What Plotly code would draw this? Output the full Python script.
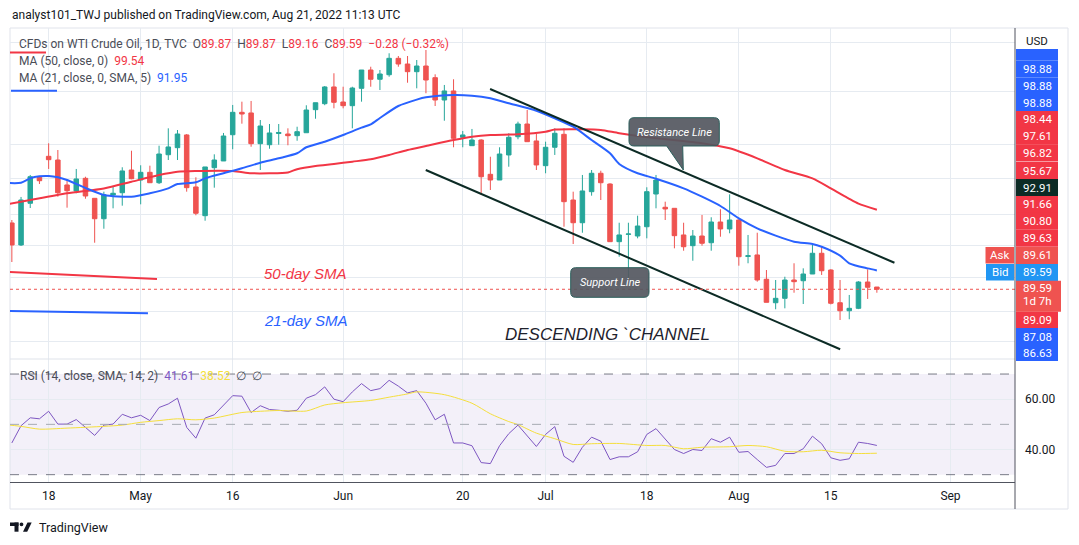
import plotly.graph_objects as go
import pandas as pd

# ---------------- data ----------------
dates = pd.bdate_range("2022-04-12", "2022-08-22").strftime("%Y-%m-%d").tolist()

opens = [97.88, 95.13, 100.34, 103.59, 106.21, 105.75, 102.63, 101.88, 103.46, 100.96,
         98.41, 101.38, 101.66, 104.5, 103.25, 104.21, 102.91, 106.41, 107.29, 108.88,
         102.38, 98.79, 104.79, 105.63, 108.91, 111.71, 111.63, 107.79, 107.66, 109.06,
         109.0, 108.79, 109.16, 112.04, 112.79, 114.88, 113.0, 112.54, 114.71, 117.0,
         115.84, 116.41, 118.46, 117.75, 116.79, 117.5, 116.04, 113.25, 114.38, 108.59,
         107.54, 108.25, 103.96, 103.25, 106.38, 108.66, 110.25, 108.13, 105.04, 107.34,
         108.96, 100.75, 97.91, 101.79, 104.09, 102.75, 95.54, 96.46, 96.25, 97.41,
         101.5, 99.84, 99.71, 96.38, 95.04, 96.25, 95.41, 98.0, 97.13, 98.25,
         93.7, 93.88, 90.84, 87.91, 88.46, 90.75, 90.66, 91.5, 94.09, 92.0,
         87.91, 86.91, 87.21, 90.5, 89.87]
closes = [95.13, 100.75, 103.66, 103.16, 105.79, 101.66, 101.91, 103.38, 101.25, 98.41,
          101.41, 101.59, 104.38, 103.41, 104.21, 102.91, 106.5, 107.38, 109.0, 102.29,
          99.09, 104.88, 105.75, 108.75, 111.71, 111.5, 107.79, 110.0, 109.13, 109.19,
          108.79, 109.29, 112.0, 112.91, 114.88, 112.96, 112.54, 114.75, 117.0, 115.84,
          116.5, 118.46, 117.75, 116.79, 117.5, 115.75, 113.25, 114.38, 108.46, 108.88,
          108.25, 103.66, 103.25, 106.5, 108.59, 110.25, 108.04, 105.13, 107.34, 109.09,
          100.54, 97.91, 101.88, 104.09, 102.91, 95.54, 96.38, 96.5, 97.5, 101.79,
          103.25, 99.63, 96.29, 94.91, 96.25, 95.34, 98.0, 97.13, 98.25, 93.66,
          93.78, 90.75, 87.96, 88.46, 90.75, 90.54, 91.5, 94.09, 91.91, 87.84,
          86.91, 87.21, 90.5, 89.84, 89.59]
highs = [98.25, 101.13, 103.88, 103.66, 107.84, 107.0, 103.38, 104.63, 103.66, 100.96,
         101.79, 102.41, 104.84, 106.91, 105.09, 105.04, 107.54, 109.71, 109.5, 109.0,
         103.59, 104.88, 106.46, 109.13, 112.63, 113.04, 113.13, 110.75, 110.25, 110.25,
         109.71, 109.91, 112.59, 112.91, 115.0, 116.59, 114.91, 114.91, 117.0, 117.41,
         117.0, 119.09, 118.75, 118.75, 118.25, 119.5, 116.46, 115.13, 115.84, 109.38,
         109.63, 108.34, 106.16, 107.34, 109.09, 110.54, 112.0, 109.0, 108.04, 109.71,
         109.71, 101.79, 103.88, 104.5, 104.41, 102.84, 97.91, 97.91, 98.79, 102.34,
         103.88, 100.54, 99.71, 97.91, 97.0, 98.88, 98.59, 99.59, 101.46, 98.34,
         96.38, 96.66, 92.0, 90.75, 91.16, 92.84, 92.21, 95.13, 94.91, 92.1,
         90.75, 88.88, 90.6, 92.09, 89.87]
lows = [93.0, 95.0, 99.75, 102.75, 104.63, 101.16, 99.79, 101.59, 100.91, 95.41,
        97.16, 99.71, 100.04, 103.34, 100.21, 102.91, 102.75, 105.75, 105.75, 101.79,
        98.84, 98.16, 102.29, 105.63, 107.09, 110.29, 107.41, 104.5, 107.16, 107.66,
        107.59, 108.16, 109.16, 110.91, 112.6, 112.21, 112.21, 109.71, 113.04, 114.91,
        114.5, 116.16, 117.41, 115.41, 114.71, 114.09, 112.5, 110.66, 107.34, 107.34,
        107.54, 101.38, 102.0, 103.25, 104.91, 108.34, 108.04, 104.5, 104.09, 106.38,
        97.41, 95.25, 96.66, 101.29, 100.75, 95.54, 93.66, 91.0, 95.96, 95.96,
        99.71, 98.25, 94.71, 94.41, 93.16, 95.04, 94.41, 96.16, 96.59, 92.54,
        92.84, 90.54, 87.96, 87.09, 87.21, 89.16, 87.75, 91.5, 91.38, 87.7,
        85.75, 85.84, 87.11, 88.38, 89.16]

ma50_dates = ["2022-04-11", "2022-04-14", "2022-04-20", "2022-04-26", "2022-04-29", "2022-05-04",
              "2022-05-06", "2022-05-10", "2022-05-16", "2022-05-18", "2022-05-20", "2022-05-24",
              "2022-05-25", "2022-05-27", "2022-05-31", "2022-06-02", "2022-06-06", "2022-06-08",
              "2022-06-10", "2022-06-14", "2022-06-17", "2022-06-21", "2022-06-23", "2022-06-28",
              "2022-07-01", "2022-07-04", "2022-07-07", "2022-07-11", "2022-07-13", "2022-07-19",
              "2022-07-26", "2022-07-29", "2022-08-03", "2022-08-08", "2022-08-11", "2022-08-15",
              "2022-08-17", "2022-08-18", "2022-08-22"]
ma50_values = [100.1, 100.75, 101.59, 102.2, 103.04, 103.88, 104.29, 104.38, 104.38, 104.1,
               104.09, 104.2, 104.6, 105.0, 105.25, 105.54, 105.84, 106.38, 107.0, 107.5,
               108.25, 108.66, 108.88, 108.96, 109.29, 109.55, 109.59, 109.5, 109.1, 108.46,
               107.84, 107.21, 105.96, 104.5, 103.46, 102.21, 100.9, 100.3, 99.54]

ma21_dates = ["2022-04-11", "2022-04-13", "2022-04-14", "2022-04-15", "2022-04-18", "2022-04-19",
              "2022-04-20", "2022-04-22", "2022-04-26", "2022-04-29", "2022-05-03", "2022-05-05",
              "2022-05-06", "2022-05-10", "2022-05-11", "2022-05-13", "2022-05-17", "2022-05-19",
              "2022-05-23", "2022-05-25", "2022-05-26", "2022-05-30", "2022-06-01", "2022-06-03",
              "2022-06-06", "2022-06-07", "2022-06-09", "2022-06-13", "2022-06-14", "2022-06-17",
              "2022-06-21", "2022-06-23", "2022-06-27", "2022-06-30", "2022-07-04", "2022-07-06",
              "2022-07-08", "2022-07-12", "2022-07-13", "2022-07-15", "2022-07-19", "2022-07-22",
              "2022-07-26", "2022-07-28", "2022-08-01", "2022-08-03", "2022-08-05", "2022-08-09",
              "2022-08-11", "2022-08-12", "2022-08-16", "2022-08-17", "2022-08-19", "2022-08-22"]
ma21_values = [102.9, 102.9, 103.46, 103.71, 103.75, 103.59, 103.25, 102.25, 101.38, 101.16,
               101.59, 102.21, 102.75, 102.96, 103.46, 104.09, 104.71, 105.41, 105.96, 106.59,
               107.34, 108.04, 108.88, 109.79, 110.2, 111.0, 112.5, 113.3, 113.59, 113.88,
               113.79, 113.46, 112.84, 111.91, 110.96, 109.91, 108.25, 106.59, 105.25, 104.09,
               103.41, 102.21, 101.16, 100.0, 98.46, 97.21, 96.3, 95.54, 95.25, 94.91,
               93.8, 92.84, 92.2, 91.95]

rsi_values = [42.6, 49.45, 52.6, 52.2, 55.2, 50.1, 50.1, 51.9, 48.8, 45.6,
              49.7, 50.1, 54.0, 52.6, 53.6, 51.5, 56.7, 58.1, 60.4, 48.8,
              44.5, 52.5, 53.8, 57.7, 61.4, 61.2, 54.7, 57.4, 55.9, 55.6,
              55.2, 55.6, 60.4, 61.8, 64.9, 60.0, 59.0, 62.9, 66.2, 63.4,
              64.2, 67.5, 65.2, 62.5, 63.4, 58.4, 51.8, 54.0, 42.6, 42.6,
              41.5, 34.8, 34.4, 41.5, 46.3, 49.7, 45.6, 41.2, 46.0, 49.1,
              37.3, 34.9, 40.9, 44.9, 43.3, 36.0, 37.1, 37.1, 39.1, 46.0,
              48.3, 44.0, 40.0, 38.4, 40.0, 39.6, 44.3, 42.9, 44.9, 38.9,
              39.2, 36.0, 32.9, 33.7, 38.4, 38.4, 40.3, 45.3, 42.3, 36.7,
              35.7, 36.3, 42.9, 42.4, 41.61]

rsi_sma_dates = ["2022-04-11", "2022-04-13", "2022-04-15", "2022-04-20", "2022-04-26", "2022-04-28",
                 "2022-05-02", "2022-05-04", "2022-05-06", "2022-05-10", "2022-05-12", "2022-05-17",
                 "2022-05-19", "2022-05-23", "2022-05-26", "2022-05-30", "2022-06-01", "2022-06-06",
                 "2022-06-08", "2022-06-10", "2022-06-13", "2022-06-16", "2022-06-21", "2022-06-23",
                 "2022-06-27", "2022-06-28", "2022-06-30", "2022-07-04", "2022-07-06", "2022-07-08",
                 "2022-07-13", "2022-07-18", "2022-07-20", "2022-07-22", "2022-07-26", "2022-07-29",
                 "2022-08-02", "2022-08-04", "2022-08-08", "2022-08-10", "2022-08-12", "2022-08-16",
                 "2022-08-18", "2022-08-22"]
rsi_sma_values = [50.0, 49.2, 48.1, 48.5, 49.2, 49.7, 50.8, 51.5, 52.2, 51.8, 52.5, 54.7,
                  55.2, 55.5, 55.3, 57.7, 58.6, 59.5, 60.8, 62.1, 62.9, 61.8, 58.4, 54.2,
                  51.1, 49.9, 46.5, 44.3, 42.0, 42.3, 42.4, 41.6, 41.6, 40.3, 40.9, 41.1,
                  41.6, 41.1, 39.3, 39.1, 39.7, 38.7, 38.4, 38.52]

tick_dates = ["2022-04-18", "2022-05-02", "2022-05-16", "2022-06-01", "2022-06-20",
              "2022-07-01", "2022-07-18", "2022-08-01", "2022-08-15", "2022-09-01"]
tick_text = ["18", "May", "16", "Jun", "20", "Jul", "18", "Aug", "15", "Sep"]

price_grid = [120.46, 114.34, 107.71, 103.46, 98.88, 95.04, 91.09, 86.79, 83.04]

upper_channel_dates = ["2022-06-22 23:15", "2022-08-23 21:50"]
upper_channel_prices = [114.63, 92.91]
lower_channel_dates = ["2022-06-13 23:30", "2022-08-16 00:15"]
lower_channel_prices = [104.5, 82.09]
sma50_note_dates = ["2022-04-11", "2022-05-03 18:30"]
sma50_note_prices = [91.79, 90.875]
sma21_note_dates = ["2022-04-11", "2022-05-02 19:00"]
sma21_note_prices = [86.89, 86.59]

scale_labels = [  # stacked price-scale labels: text, box colour, centre (px)
    ("98.88", "#2962ff", 69), ("98.88", "#2962ff", 86), ("98.88", "#2962ff", 102.5),
    ("98.44", "#f23645", 119.5), ("97.61", "#f23645", 136.3), ("96.82", "#f23645", 153),
    ("95.67", "#f23645", 170.5), ("92.91", "#0c2b25", 187.5), ("91.66", "#f23645", 204.5),
    ("90.80", "#f23645", 221.3), ("89.63", "#f23645", 238.3), ("89.61", "#ef5350", 255.4),
    ("89.59", "#2196f3", 272.4), ("89.09", "#f23645", 320), ("87.08", "#2962ff", 336.5),
    ("86.63", "#2962ff", 352.5)]

# ---------------- geometry helpers (reference pixel -> paper) ----------------
# the page body adds an 8px margin; the figure is sized/placed to compensate
OFF = 8
FIG_W, FIG_H = 1079 - 2 * OFF, 545 - 2 * OFF
L, R, T, B = 10, 1015, 28, 482          # plot area in reference pixels
def fx(px):
    return (px - L) / (R - L)
def fy(py):
    return (B - py) / (B - T)

GREEN, RED = "#26a69a", "#ef5350"
GRID = "#e6ebf1"
TXT = "#131722"
FONT = "Roboto"

fig = go.Figure()
fig.add_trace(go.Candlestick(
    x=dates, open=opens, high=highs, low=lows, close=closes,
    increasing=dict(line=dict(color=GREEN, width=1), fillcolor=GREEN),
    decreasing=dict(line=dict(color=RED, width=1), fillcolor=RED),
    whiskerwidth=0, showlegend=False, hoverinfo="skip", xaxis="x", yaxis="y"))

fig.add_trace(go.Scatter(x=ma50_dates, y=ma50_values, mode="lines", showlegend=False,
                         line=dict(color="#f23645", width=2, shape="spline", smoothing=0.7),
                         hoverinfo="skip", xaxis="x", yaxis="y"))
fig.add_trace(go.Scatter(x=ma21_dates, y=ma21_values, mode="lines", showlegend=False,
                         line=dict(color="#2962ff", width=2, shape="spline", smoothing=0.7),
                         hoverinfo="skip", xaxis="x", yaxis="y"))
for dx, dy, col in [(sma50_note_dates, sma50_note_prices, "#f23645"),
                    (sma21_note_dates, sma21_note_prices, "#2962ff")]:
    fig.add_trace(go.Scatter(x=dx, y=dy, mode="lines", showlegend=False, hoverinfo="skip",
                             line=dict(color=col, width=2), xaxis="x", yaxis="y"))
for dx, dy in [(upper_channel_dates, upper_channel_prices),
               (lower_channel_dates, lower_channel_prices)]:
    fig.add_trace(go.Scatter(x=dx, y=dy, mode="lines", showlegend=False, hoverinfo="skip",
                             line=dict(color="#0c2b25", width=2), xaxis="x", yaxis="y"))

fig.add_trace(go.Scatter(x=dates, y=rsi_values, mode="lines", showlegend=False, hoverinfo="skip",
                         line=dict(color="#7e57c2", width=1), xaxis="x", yaxis="y2"))
fig.add_trace(go.Scatter(x=rsi_sma_dates, y=rsi_sma_values, mode="lines", showlegend=False,
                         hoverinfo="skip",
                         line=dict(color="#f5df3c", width=1, shape="spline", smoothing=0.7),
                         xaxis="x", yaxis="y2"))

shapes = []
# RSI band + levels
shapes.append(dict(type="rect", xref="paper", yref="y2", x0=0, x1=1, y0=30, y1=70,
                   fillcolor="rgba(126,87,194,0.09)", line=dict(width=0), layer="below"))
for lvl, col in [(70, "#787b86"), (50, "#a7aab3"), (30, "#787b86")]:
    shapes.append(dict(type="line", xref="paper", yref="y2", x0=0, x1=1, y0=lvl, y1=lvl,
                       line=dict(color=col, width=1, dash="dash")))
# last price dotted line
shapes.append(dict(type="line", xref="paper", yref="y", x0=0, x1=1, y0=closes[-1], y1=closes[-1],
                   line=dict(color="#ef5350", width=1, dash="dot")))
# pane separator, price-scale border, frame
shapes.append(dict(type="line", xref="paper", yref="paper", x0=0, x1=1, y0=fy(359), y1=fy(359),
                   line=dict(color="#dfe3ea", width=1)))
shapes.append(dict(type="rect", xref="paper", yref="paper", x0=fx(10), x1=fx(1068),
                   y0=fy(509), y1=fy(28), line=dict(color="#e0e3eb", width=1), layer="below"))
shapes.append(dict(type="line", xref="paper", yref="paper", x0=1, x1=1, y0=fy(509), y1=fy(28),
                   line=dict(color="#50535e", width=1)))
# legend marker strokes
shapes.append(dict(type="line", xref="paper", yref="paper", x0=fx(10), x1=fx(46),
                   y0=fy(52.4), y1=fy(52.4), line=dict(color="#f23645", width=2)))
shapes.append(dict(type="line", xref="paper", yref="paper", x0=fx(11), x1=fx(57),
                   y0=fy(90.7), y1=fy(90.7), line=dict(color="#2962ff", width=2)))


def rrect_path(x0, y0, x1, y1, r, pointer=None):
    pts = []
    def P(cmd, *xy):
        s = cmd
        for i in range(0, len(xy), 2):
            s += f" {fx(xy[i]):.5f},{fy(xy[i+1]):.5f}"
        pts.append(s)
    P("M", x0 + r, y0)
    P("L", x1 - r, y0)
    P("Q", x1, y0, x1, y0 + r)
    P("L", x1, y1 - r)
    P("Q", x1, y1, x1 - r, y1)
    if pointer:
        for (a, b) in pointer:
            P("L", a, b)
    P("L", x0 + r, y1)
    P("Q", x0, y1, x0, y1 - r)
    P("L", x0, y0 + r)
    P("Q", x0, y0, x0 + r, y0)
    return " ".join(pts) + " Z"

shapes.append(dict(type="path", xref="paper", yref="paper",
                   path=rrect_path(629, 117.7, 719.3, 146, 5,
                                   pointer=[(682.7, 146), (683.3, 170), (666.7, 146)]),
                   fillcolor="rgba(84,87,96,0.92)", line=dict(color="#2b5f5c", width=1)))
shapes.append(dict(type="path", xref="paper", yref="paper",
                   path=rrect_path(570.7, 267.7, 649, 297.3, 5),
                   fillcolor="rgba(84,87,96,0.92)", line=dict(color="#2b5f5c", width=1)))

annotations = []
def ann(text, px, py, size=12, color=TXT, xanchor="left", family=FONT):
    annotations.append(dict(text=text, x=fx(px), y=fy(py), xref="paper", yref="paper",
                            xanchor=xanchor, yanchor="middle", showarrow=False,
                            font=dict(size=size, color=color, family=family)))

# price scale labels
shapes.append(dict(type="rect", xref="paper", yref="paper", x0=fx(1016), x1=fx(1058),
                   y0=fy(60.5), y1=fy(49), fillcolor="#2962ff", line=dict(width=0)))
for text, col, yc in scale_labels:
    shapes.append(dict(type="rect", xref="paper", yref="paper", x0=fx(1016), x1=fx(1058),
                       y0=fy(yc + 8.5), y1=fy(yc - 8.5), fillcolor=col, line=dict(width=0)))
    ann(text, 1037, yc, size=11.5, color="white", xanchor="center")
shapes.append(dict(type="rect", xref="paper", yref="paper", x0=fx(1016), x1=fx(1061),
                   y0=fy(311.7), y1=fy(280.7), fillcolor="#ef5350", line=dict(width=0)))
ann(f"{closes[-1]:.2f}", 1037, 288, size=11.5, color="white", xanchor="center")
ann("1d 7h", 1037, 301, size=11.5, color="white", xanchor="center")
# Ask / Bid tags
shapes.append(dict(type="rect", xref="paper", yref="paper", x0=fx(985.5), x1=fx(1014),
                   y0=fy(263.5), y1=fy(247), fillcolor="#ef5350", line=dict(width=0)))
shapes.append(dict(type="rect", xref="paper", yref="paper", x0=fx(986), x1=fx(1014),
                   y0=fy(280.5), y1=fy(264), fillcolor="#2196f3", line=dict(width=0)))
ann("Ask", 999.8, 255.3, size=11.5, color="white", xanchor="center")
ann("Bid", 1000, 272.3, size=11.5, color="white", xanchor="center")
ann("USD", 1037, 40.5, size=11.5, color=TXT, xanchor="center")

# header + legends
ann("analyst101_TWJ published on TradingView.com, Aug 21, 2022 11:13 UTC", 10, 15, size=12)
sp = "\u00a0\u00a0"
red_s = '<span style="color:#f23645">'
line1 = ("CFDs on WTI Crude Oil, 1D, TVC" + sp +
         f"O{red_s}{opens[-1]:.2f}</span>" + sp +
         f"H{red_s}{highs[-1]:.2f}</span>" + sp +
         f"L{red_s}{lows[-1]:.2f}</span>" + sp +
         f"C{red_s}{closes[-1]:.2f}</span>" + sp +
         f"{red_s}\u22120.28 (\u22120.32%)</span>")
ann(line1, 17, 43.7, size=12, color="#4a4d57")
ann(f'MA (50, close, 0)\u00a0\u00a0<span style="color:#f23645">{ma50_values[-1]:.2f}</span>',
    17, 61, size=12, color="#4a4d57")
ann(f'MA (21, close, 0, SMA, 5)\u00a0\u00a0<span style="color:#2962ff">{ma21_values[-1]:.2f}</span>',
    17, 78, size=12, color="#4a4d57")
ann(f'RSI (14, close, SMA, 14, 2)\u00a0\u00a0<span style="color:#7e57c2">{rsi_values[-1]:.2f}</span>'
    f'\u00a0\u00a0<span style="color:#f5df3c">{rsi_sma_values[-1]:.2f}</span>\u00a0\u00a0\u2205\u00a0\u00a0\u2205',
    18, 376, size=12, color="#4a4d57")

# callout texts
ann("<i>Resistance Line</i>", 674.2, 132, size=11, color="white", xanchor="center")
ann("<i>Support Line</i>", 610, 282.5, size=11, color="white", xanchor="center")

# drawing texts (data coords)
annotations.append(dict(text="<i>50-day SMA</i>", x="2022-05-19 04:48", y=91.58, xref="x", yref="y",
                        xanchor="left", yanchor="middle", showarrow=False,
                        font=dict(size=15, color="#f23645", family="Liberation Sans")))
annotations.append(dict(text="<i>21-day SMA</i>", x="2022-05-19 04:48", y=85.75, xref="x", yref="y",
                        xanchor="left", yanchor="middle", showarrow=False,
                        font=dict(size=15, color="#2962ff", family="Liberation Sans")))
annotations.append(dict(text="<i>DESCENDING `CHANNEL</i>", x="2022-06-24 08:24", y=84.0,
                        xref="x", yref="y", xanchor="left", yanchor="middle", showarrow=False,
                        font=dict(size=17, color="#1e222d", family="Liberation Sans")))

# TradingView logo
shapes.append(dict(type="rect", xref="paper", yref="paper", x0=fx(10), x1=fx(18.5),
                   y0=fy(526), y1=fy(522.5), fillcolor=TXT, line=dict(width=0)))
shapes.append(dict(type="rect", xref="paper", yref="paper", x0=fx(14.5), x1=fx(18.5),
                   y0=fy(531.7), y1=fy(522.5), fillcolor=TXT, line=dict(width=0)))
shapes.append(dict(type="circle", xref="paper", yref="paper", x0=fx(19.6), x1=fx(23.4),
                   y0=fy(526.2), y1=fy(522.4), fillcolor=TXT, line=dict(width=0)))
shapes.append(dict(type="path", xref="paper", yref="paper",
                   path=(f"M {fx(23):.5f},{fy(531.7):.5f} L {fx(27.2):.5f},{fy(531.7):.5f} "
                         f"L {fx(31.7):.5f},{fy(522.4):.5f} L {fx(27.5):.5f},{fy(522.4):.5f} Z"),
                   fillcolor=TXT, line=dict(width=0)))
ann("TradingView", 36.5, 527, size=12.5, color=TXT)

fig.update_layout(
    width=FIG_W, height=FIG_H,
    margin=dict(l=L - OFF, r=FIG_W - (R - OFF), t=T - OFF, b=FIG_H - (B - OFF)),
    paper_bgcolor="white", plot_bgcolor="white",
    font=dict(family=FONT, size=12, color=TXT),
    showlegend=False,
    xaxis=dict(type="date", range=["2022-04-11 19:12", "2022-09-12 00:15"],
               rangebreaks=[dict(bounds=["sat", "mon"])],
               anchor="y2", tickmode="array", tickvals=tick_dates, ticktext=tick_text,
               showgrid=True, gridcolor=GRID, gridwidth=1, zeroline=False,
               showline=True, linecolor="#50535e", linewidth=1, ticks="",
               tickfont=dict(size=12, color=TXT), ticklabelstandoff=3,
               rangeslider=dict(visible=False), fixedrange=True),
    yaxis=dict(domain=[fy(359), 1], range=[80.875, 122.25], side="right",
               tickmode="array", tickvals=price_grid, showticklabels=False,
               showgrid=True, gridcolor=GRID, zeroline=False, ticks="", fixedrange=True),
    yaxis2=dict(domain=[0, fy(359)], range=[27.08, 75.98], side="right",
                tickmode="array", tickvals=[40, 60], ticktext=["40.00", "60.00"],
                showgrid=True, gridcolor=GRID, zeroline=False, ticks="",
                tickfont=dict(size=12, color=TXT), ticklabelstandoff=9, fixedrange=True),
    shapes=shapes,
    annotations=annotations,
)

fig.write_html("out.html")
